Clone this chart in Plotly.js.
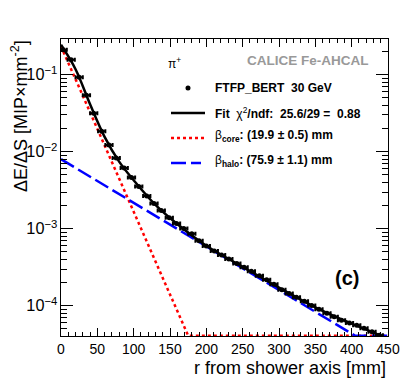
<!DOCTYPE html>
<html>
<head>
<meta charset="utf-8">
<script src="https://cdn.plot.ly/plotly-3.0.1.min.js"></script>
<style>
  html, body { margin: 0; padding: 0; background: #fff; }
  #plot { width: 409px; height: 392px; }
</style>
</head>
<body>
<div id="plot"></div>
<script>
// measured points (r in mm, dE/dS in MIP/mm^2)
var rData = [3, 14, 25, 35, 45, 56, 66, 76, 87, 97, 107, 118, 128, 138, 149, 159, 169, 180, 190, 200,
  211, 221, 231, 242, 252, 262, 273, 283, 293, 304, 314, 324, 335, 345, 355, 366, 376, 386, 397, 407,
  417, 428, 438];
var eData = [0.211, 0.157, 0.093, 0.054, 0.0316, 0.0184, 0.0122, 0.0083, 0.00614, 0.00464,
  0.00353, 0.00267, 0.00212, 0.00173, 0.00139, 0.00117, 0.00101, 0.00086, 0.00070, 0.000598,
  0.000515, 0.000455, 0.000404, 0.000354, 0.000315, 0.000281, 0.000246, 0.000218, 0.000190, 0.000161,
  0.000144, 0.000129, 0.000114, 0.000101, 0.0000901, 0.0000800, 0.0000718, 0.0000649, 0.0000598, 0.0000556,
  0.0000510, 0.0000458, 0.0000415];
var rErr = 5;

// total fit curve
var rFit = [0, 20, 40, 60, 80, 100, 130, 160, 200, 250, 300, 350, 400, 440];
var eFit = [0.245, 0.118, 0.0414, 0.0156, 0.00745, 0.00427, 0.00204, 0.00115, 0.0006, 0.00032,
  0.000172, 0.0000955, 0.0000585, 0.000041];

// core and halo components (clamped to the frame bottom like ROOT does)
var rCore = [0, 175, 450];
var eCore = [0.235, 4.07e-5, 4.07e-5];
var rHalo = [0, 405, 450];
var eHalo = [0.008, 4.07e-5, 4.07e-5];

var font = 'Liberation Sans, Arial, sans-serif';

// pixel helpers for the overlay text (plot frame is 61..388 x 39..336)
function px(x) { return (x - 61) / 327; }
function py(y) { return (336 - y) / 297; }

var traces = [
  {
    x: rCore, y: eCore, mode: 'lines', cliponaxis: false,
    line: { color: '#ff0000', width: 2.5, dash: 'dot' }
  },
  {
    x: rHalo, y: eHalo, mode: 'lines', cliponaxis: false,
    line: { color: '#0000ff', width: 2.5, dash: '15px,5px' }
  },
  {
    x: rFit, y: eFit, mode: 'lines',
    line: { color: '#000', width: 2.5, shape: 'spline' }
  },
  {
    x: rData, y: eData, mode: 'markers',
    marker: { color: '#000', size: 5 },
    error_x: { type: 'constant', value: rErr, color: '#000', thickness: 2, width: 2 }
  }
];

var legY = [88, 113, 138, 163];

var layout = {
  width: 409, height: 392,
  margin: { l: 61, r: 21, t: 39, b: 56 },
  paper_bgcolor: '#fff', plot_bgcolor: '#fff',
  showlegend: false,
  font: { family: font, size: 13, color: '#000' },
  xaxis: {
    range: [0, 450], dtick: 50, tick0: 0,
    ticks: 'inside', ticklen: 8, tickcolor: '#000',
    showline: true, linecolor: '#000', linewidth: 1, mirror: 'ticks',
    showgrid: false, zeroline: false,
    minor: { dtick: 10, ticks: 'inside', ticklen: 4, tickcolor: '#000', showgrid: false },
    tickfont: { size: 14 }
  },
  yaxis: {
    type: 'log', range: [-4.393, -0.536], dtick: 1,
    exponentformat: 'power',
    ticks: 'inside', ticklen: 12, tickcolor: '#000',
    showline: true, linecolor: '#000', linewidth: 1, mirror: 'ticks',
    showgrid: false, zeroline: false,
    minor: { dtick: 'D1', ticks: 'inside', ticklen: 6, tickcolor: '#000', showgrid: false },
    tickfont: { size: 13 }
  },
  shapes: [
    { type: 'line', xref: 'paper', yref: 'paper', x0: px(171), x1: px(205), y0: py(legY[1]), y1: py(legY[1]),
      line: { color: '#000', width: 2.5 } },
    { type: 'line', xref: 'paper', yref: 'paper', x0: px(171), x1: px(205), y0: py(legY[2]), y1: py(legY[2]),
      line: { color: '#ff0000', width: 2.5, dash: 'dot' } },
    { type: 'line', xref: 'paper', yref: 'paper', x0: px(171), x1: px(201), y0: py(legY[3]), y1: py(legY[3]),
      line: { color: '#0000ff', width: 2.5, dash: '15px,5px' } },
    { type: 'circle', xref: 'paper', yref: 'paper', x0: px(185.5), x1: px(190.5), y0: py(legY[0] + 2.5), y1: py(legY[0] - 2.5),
      fillcolor: '#000', line: { color: '#000', width: 0 } }
  ],
  annotations: [
    { xref: 'paper', yref: 'paper', x: px(371), y: py(60), xanchor: 'right', yanchor: 'middle',
      text: '<b>CALICE Fe-AHCAL</b>', showarrow: false, font: { size: 13.5, color: '#999999' } },
    { xref: 'paper', yref: 'paper', x: px(166), y: py(63), xanchor: 'left', yanchor: 'middle',
      text: 'π<sup>+</sup>', showarrow: false, font: { size: 12, color: '#000' } },
    { xref: 'paper', yref: 'paper', x: px(213), y: py(legY[0]), xanchor: 'left', yanchor: 'middle',
      text: '<b>FTFP_BERT  30 GeV</b>', showarrow: false, font: { size: 12, color: '#000' } },
    { xref: 'paper', yref: 'paper', x: px(213), y: py(legY[1]), xanchor: 'left', yanchor: 'middle',
      text: '<b>Fit</b>  χ<sup>2</sup><b>/ndf:  25.6/29 =  0.88</b>', showarrow: false, font: { size: 12, color: '#000' } },
    { xref: 'paper', yref: 'paper', x: px(213), y: py(legY[2] - 2), xanchor: 'left', yanchor: 'middle',
      text: 'β<sub><b>core</b></sub><b>: (19.9 ± 0.5) mm</b>', showarrow: false, font: { size: 12, color: '#000' } },
    { xref: 'paper', yref: 'paper', x: px(213), y: py(legY[3] - 2), xanchor: 'left', yanchor: 'middle',
      text: 'β<sub><b>halo</b></sub><b>: (75.9 ± 1.1) mm</b>', showarrow: false, font: { size: 12, color: '#000' } },
    { xref: 'paper', yref: 'paper', x: px(347), y: py(278), xanchor: 'center', yanchor: 'middle',
      text: '<b>(c)</b>', showarrow: false, font: { size: 20, color: '#000' } },
    { xref: 'paper', yref: 'paper', x: px(388), y: py(368), xanchor: 'right', yanchor: 'middle',
      text: 'r from shower axis [mm]', showarrow: false, font: { size: 18, color: '#000' } },
    { xref: 'paper', yref: 'paper', x: px(20), y: py(38), xanchor: 'center', yanchor: 'top', textangle: -90,
      text: 'ΔE/ΔS [MIP×mm<sup>-2</sup>]', showarrow: false, font: { size: 18, color: '#000' } }
  ]
};

Plotly.newPlot('plot', traces, layout, { staticPlot: true });
</script>
</body>
</html>
